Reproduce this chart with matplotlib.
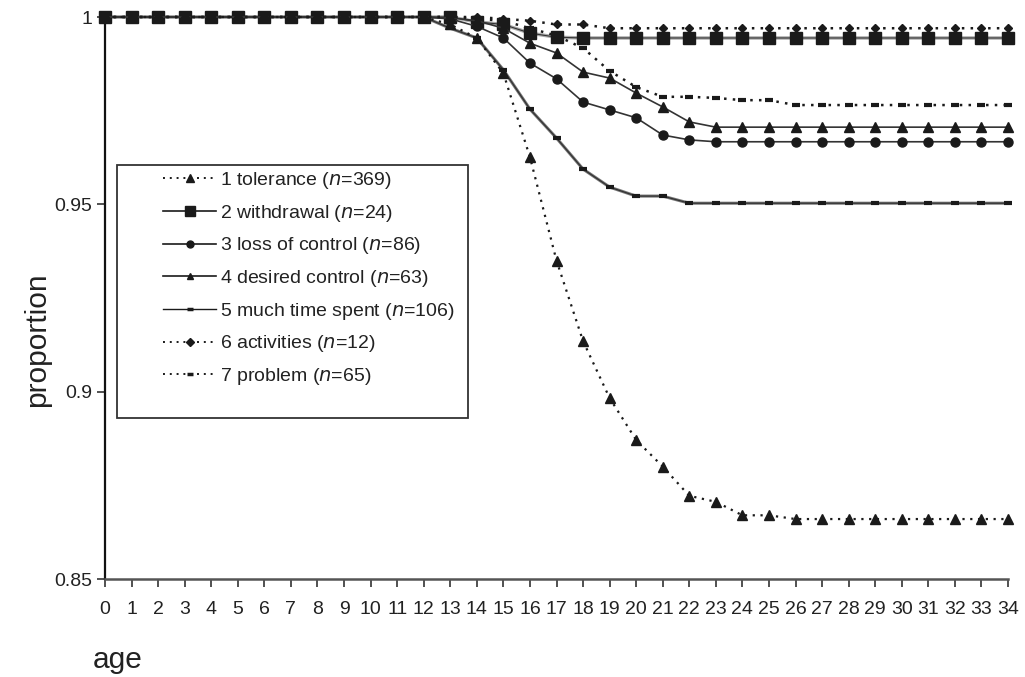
import matplotlib
matplotlib.use("Agg")
import matplotlib.pyplot as plt
from matplotlib.lines import Line2D
from matplotlib.patches import Rectangle

ages = list(range(0, 35))

tolerance = [1.0] * 13 + [0.998, 0.9944, 0.985, 0.9626, 0.935, 0.9135, 0.8983, 0.8871,
                          0.880, 0.8722, 0.8706, 0.867, 0.867] + [0.866] * 9
withdrawal = [1.0] * 14 + [0.9987, 0.998, 0.9957, 0.9946] + [0.9944] * 17
loss_of_control = [1.0] * 13 + [0.9995, 0.9975, 0.9944, 0.9877, 0.9835, 0.9773, 0.9752,
                                0.9731, 0.9685, 0.9672] + [0.9667] * 12
desired_control = [1.0] * 13 + [0.9998, 0.999, 0.997, 0.993, 0.9904, 0.9853, 0.9837,
                                0.9797, 0.976, 0.972] + [0.9706] * 12
much_time = [1.0] * 13 + [0.997, 0.9944, 0.9859, 0.9754, 0.9677, 0.9594, 0.9546,
                          0.9522, 0.9522] + [0.9503] * 13
activities = [1.0] * 15 + [0.9995, 0.999, 0.998, 0.998] + [0.997] * 16
problem = [1.0] * 14 + [0.9995, 0.999, 0.997, 0.995, 0.9917, 0.9856, 0.9813, 0.9787,
                        0.9787, 0.9784, 0.9778, 0.9778] + [0.9765] * 9

labels = ["1 tolerance", "2 withdrawal", "3 loss of control", "4 desired control",
          "5 much time spent", "6 activities", "7 problem"]
ns = [369, 24, 86, 63, 106, 12, 65]

yticks = [0.85, 0.9, 0.95, 1.0]
ytick_labels = ["0.85", "0.9", "0.95", "1"]

NARROW = ["Liberation Sans Narrow", "Liberation Sans", "DejaVu Sans"]
REG = ["Liberation Sans", "DejaVu Sans"]
plt.rcParams["font.family"] = REG

W, H = 1025, 677
fig = plt.figure(figsize=(W / 100, H / 100), dpi=100)
x0, x1 = 105, 1008
y0, y1 = 17, 579
ax = fig.add_axes([x0 / W, 1 - y1 / H, (x1 - x0) / W, (y1 - y0) / H])

dark = "#1a1a1a"
line_c = "#333333"

# much time spent
ax.plot(ages, much_time, color="#777777", lw=2.2, zorder=2, clip_on=False)
ax.plot(ages, much_time, color=line_c, lw=0.9, marker="_", ms=6, mew=3,
        mec=dark, zorder=3, clip_on=False)
# withdrawal
ax.plot(ages, withdrawal, color="#aaaaaa", lw=2.5, zorder=2, clip_on=False)
ax.plot(ages, withdrawal, color=line_c, lw=0.8, marker="s", ms=8.5, mfc=dark,
        mec=dark, zorder=4, clip_on=False)
# loss of control
ax.plot(ages, loss_of_control, color=line_c, lw=1.2, marker="o", ms=6.5, mfc=dark,
        mec=dark, zorder=4, clip_on=False)
# desired control
ax.plot(ages, desired_control, color=line_c, lw=1.2, marker="^", ms=7, mfc=dark,
        mec=dark, zorder=4, clip_on=False)
# problem
ax.plot(ages, problem, color=dark, lw=1.8, ls=(0, (1, 2.5)), marker="_", ms=6, mew=3,
        mec=dark, zorder=3, clip_on=False)
# activities
ax.plot(ages, activities, color=dark, lw=1.8, ls=(0, (1, 2.5)), marker="D", ms=4.5,
        mfc=dark, mec=dark, zorder=5, clip_on=False)
# tolerance
ax.plot(ages, tolerance, color=dark, lw=1.6, ls=(0, (1, 2.5)), marker="^", ms=7.5,
        mfc=dark, mec=dark, zorder=4, clip_on=False)

ax.set_xlim(0, 34)
ax.set_ylim(0.85, 1.0)
ax.set_xticks(ages)
ax.set_xticklabels([str(a) for a in ages], family=NARROW, fontsize=14, color="#222222")
ax.set_yticks(yticks)
ax.set_yticklabels(ytick_labels, family=NARROW, fontsize=14, color="#222222")
ax.tick_params(axis="x", direction="out", length=6, width=1.2, pad=10, colors="#333333",
               labelcolor="#222222")
ax.tick_params(axis="y", direction="out", length=6, width=1.2, pad=3, colors="#333333",
               labelcolor="#222222")
for s in ["top", "right"]:
    ax.spines[s].set_visible(False)
ax.spines["left"].set_linewidth(1.6)
ax.spines["left"].set_color("#111111")
ax.spines["bottom"].set_linewidth(1.8)
ax.spines["bottom"].set_color("#555555")

fig.text(37 / W, 1 - 340 / H, "proportion", rotation=90, ha="center", va="center",
         fontsize=21.5, color="#222222")
fig.text(118 / W, 1 - 660 / H, "age", ha="center", va="center", fontsize=21.5,
         color="#222222")

# legend
handles = [
    Line2D([], [], color=dark, lw=1.4, ls=(0, (1, 2.5)), marker="^", ms=5.5, mfc=dark, mec=dark),
    Line2D([], [], color=dark, lw=1.2, marker="s", ms=7, mfc=dark, mec=dark),
    Line2D([], [], color=dark, lw=1.2, marker="o", ms=5, mfc=dark, mec=dark),
    Line2D([], [], color=dark, lw=1.2, marker="^", ms=5, mfc=dark, mec=dark),
    Line2D([], [], color=dark, lw=1.0, marker="_", ms=4, mew=2.5, mec=dark),
    Line2D([], [], color=dark, lw=1.4, ls=(0, (1, 2.5)), marker="D", ms=4, mfc=dark, mec=dark),
    Line2D([], [], color=dark, lw=1.4, ls=(0, (1, 2.5)), marker="_", ms=5, mew=2.5, mec=dark),
]
leg_labels = [f"{l} ($\\it{{n}}$={n})" for l, n in zip(labels, ns)]
leg = fig.legend(handles, leg_labels, loc="upper left",
                 bbox_to_anchor=(163 / W, 1 - 170 / H), frameon=False,
                 fontsize=14, handlelength=2.75, handletextpad=0.2,
                 labelspacing=0.6, borderpad=0, borderaxespad=0)
for t in leg.get_texts():
    t.set_color("#222222")
fig.patches.append(Rectangle((117 / W, 1 - 418 / H), (468 - 117) / W, (418 - 165) / H,
                             transform=fig.transFigure, fill=False, lw=1.3,
                             ec="#333333", zorder=1))

fig.savefig("out.png", dpi=100)
